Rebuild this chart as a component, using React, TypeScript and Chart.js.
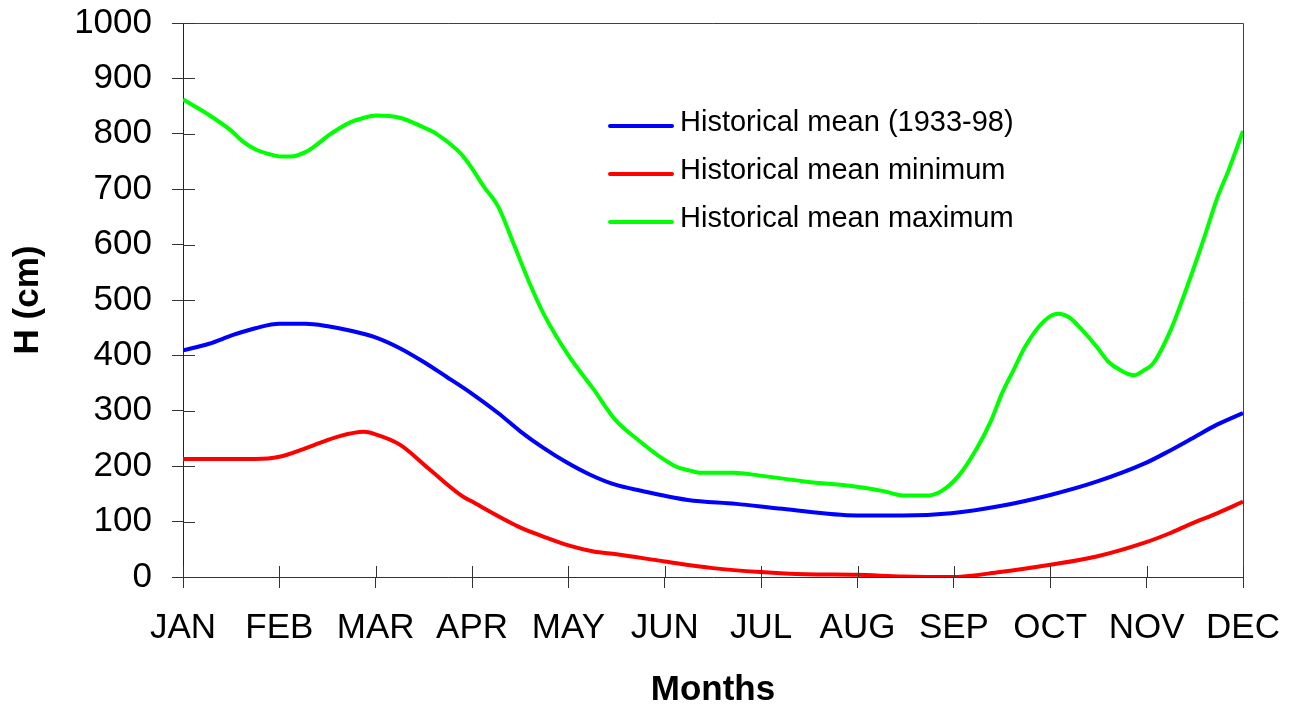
import React, { useEffect, useRef } from "react";
import { Chart, registerables } from "chart.js";

Chart.register(...registerables);

const monthLabels = ["JAN", "FEB", "MAR", "APR", "MAY", "JUN", "JUL", "AUG", "SEP", "OCT", "NOV", "DEC"];
const yTicks = [0, 100, 200, 300, 400, 500, 600, 700, 800, 900, 1000];

const seriesNames = ["Historical mean (1933-98)", "Historical mean minimum", "Historical mean maximum"];
const seriesColors = ["#0000FF", "#FF0000", "#00FF00"];

// [month position (JAN = 0), H in cm]
const meanSeries: [number, number][] = [
  [0, 409], [0.27, 421], [0.52, 437], [0.75, 449], [1.0, 457], [1.27, 457], [1.49, 453],
  [1.73, 445], [1.99, 433], [2.25, 413], [2.49, 389], [2.73, 362], [2.99, 332], [3.27, 296],
  [3.5, 263], [3.74, 233], [3.98, 207], [4.22, 185], [4.46, 168], [4.74, 156], [5.24, 139],
  [5.74, 132], [6.22, 123], [6.99, 111], [7.47, 111], [7.97, 115], [8.48, 128], [9.0, 148],
  [9.48, 172], [9.98, 205], [10.24, 228], [10.46, 249], [10.73, 275], [11.0, 296],
];

const minSeries: [number, number][] = [
  [0, 213], [0.75, 213], [1.0, 217], [1.25, 231], [1.42, 242], [1.6, 253], [1.88, 262],
  [1.99, 258], [2.25, 239], [2.56, 194], [2.89, 147], [2.99, 137], [3.48, 91], [3.74, 73],
  [4.0, 57], [4.26, 46], [4.5, 41], [5.0, 28], [5.5, 16], [5.99, 9], [6.47, 5], [6.99, 4],
  [7.47, 1], [7.97, 0], [8.48, 9], [9.0, 22], [9.48, 37], [9.98, 62], [10.24, 79],
  [10.46, 96], [10.73, 115], [11.0, 136],
];

const maxSeries: [number, number][] = [
  [0, 862], [0.27, 834], [0.49, 807], [0.63, 785], [0.75, 772], [0.9, 763], [1.02, 759],
  [1.12, 759], [1.27, 767], [1.37, 778], [1.51, 797], [1.74, 821], [1.88, 829], [2.0, 833],
  [2.25, 829], [2.49, 812], [2.63, 800], [2.89, 763], [2.99, 740], [3.12, 705], [3.27, 669],
  [3.43, 602], [3.59, 533], [3.74, 476], [4.0, 400], [4.26, 339], [4.48, 285], [4.74, 245],
  [4.95, 217], [5.12, 199], [5.26, 192], [5.38, 188], [5.71, 188], [5.99, 183], [6.47, 172],
  [6.99, 163], [7.27, 155], [7.49, 147], [7.72, 147], [7.87, 155], [8.05, 183], [8.24, 233],
  [8.38, 280], [8.5, 332], [8.62, 374], [8.74, 416], [8.93, 461], [9.08, 475], [9.2, 468],
  [9.33, 446], [9.48, 416], [9.6, 389], [9.73, 373], [9.87, 364], [9.97, 373], [10.07, 386],
  [10.25, 446], [10.42, 524], [10.6, 614], [10.73, 683], [10.85, 734], [11.0, 805],
];

const FONT = "'Liberation Sans', Arial, Helvetica, sans-serif";

const decorPlugin = {
  id: "decor",
  afterDraw(chart: any) {
    const ctx = chart.ctx;
    const { left, right, top, bottom } = chart.chartArea;
    const xs = chart.scales.x;
    const ys = chart.scales.y;
    ctx.save();
    // plot area top/right border
    ctx.strokeStyle = "#404040";
    ctx.lineWidth = 1;
    ctx.beginPath();
    ctx.moveTo(left, top + 0.5);
    ctx.lineTo(right + 0.5, top + 0.5);
    ctx.lineTo(right + 0.5, bottom);
    ctx.stroke();
    // inner halves of tick marks (ticks cross the axes)
    ctx.strokeStyle = "#333";
    ctx.beginPath();
    ys.ticks.forEach((t: any) => {
      const py = Math.round(ys.getPixelForValue(t.value)) + 0.5;
      ctx.moveTo(left, py);
      ctx.lineTo(left + 12, py);
    });
    xs.ticks.forEach((t: any) => {
      const px = Math.round(xs.getPixelForValue(t.value)) + 0.5;
      ctx.moveTo(px, bottom);
      ctx.lineTo(px, bottom - 11);
    });
    ctx.stroke();
    // legend inside the plot area
    const lx = left + 427;
    const ly = top + 103;
    chart.data.datasets.forEach((ds: any, i: number) => {
      const y = ly + i * 48;
      ctx.strokeStyle = ds.borderColor;
      ctx.lineWidth = 4;
      ctx.lineCap = "round";
      ctx.beginPath();
      ctx.moveTo(lx, y);
      ctx.lineTo(lx + 62, y);
      ctx.stroke();
      ctx.fillStyle = "#000";
      ctx.font = `29px ${FONT}`;
      ctx.textBaseline = "middle";
      ctx.textAlign = "left";
      ctx.fillText(ds.label, lx + 70, y - 3);
    });
    ctx.restore();
  },
};

export default function App() {
  const canvasRef = useRef<HTMLCanvasElement | null>(null);

  useEffect(() => {
    document.body.style.margin = "0";
    const canvas = canvasRef.current;
    if (!canvas) return;
    const toPts = (arr: [number, number][]) => arr.map(([x, y]) => ({ x, y }));
    const allSeries = [meanSeries, minSeries, maxSeries];
    const chart = new Chart(canvas, {
      type: "line",
      data: {
        datasets: allSeries.map((s, i) => ({
          label: seriesNames[i],
          data: toPts(s),
          borderColor: seriesColors[i],
          backgroundColor: seriesColors[i],
          borderWidth: 4,
          pointRadius: 0,
          fill: false,
          cubicInterpolationMode: "monotone" as const,
        })),
      },
      options: {
        animation: false,
        responsive: false,
        maintainAspectRatio: false,
        layout: { padding: { top: 23, right: 46, left: 0, bottom: 0 } },
        plugins: {
          legend: { display: false },
          tooltip: { enabled: false },
        },
        scales: {
          x: {
            type: "linear",
            min: 0,
            max: 11,
            afterBuildTicks: (scale: any) => {
              scale.ticks = monthLabels.map((_, i) => ({ value: i }));
            },
            afterFit: (scale: any) => {
              scale.height = 131;
              scale.paddingLeft = 0;
              scale.paddingRight = 0;
            },
            ticks: {
              autoSkip: false,
              maxRotation: 0,
              minRotation: 0,
              padding: 19,
              color: "#000",
              font: { family: FONT, size: 35 },
              callback: (v: any) => monthLabels[Math.round(Number(v))] ?? "",
            },
            grid: { display: true, drawOnChartArea: false, drawTicks: true, tickLength: 11, color: "#333" },
            border: { display: true, color: "#333", width: 1 },
            title: {
              display: true,
              text: "Months",
              color: "#000",
              font: { family: FONT, size: 35, weight: "bold", lineHeight: 1 },
              padding: { top: 0, bottom: 0 },
            },
          },
          y: {
            type: "linear",
            min: 0,
            max: 1000,
            afterBuildTicks: (scale: any) => {
              scale.ticks = yTicks.map((v) => ({ value: v }));
            },
            afterFit: (scale: any) => {
              scale.width = 183;
              scale.paddingTop = 0;
              scale.paddingBottom = 0;
            },
            ticks: {
              padding: 20,
              color: "#000",
              font: { family: FONT, size: 35 },
              callback: (v: any) => String(v),
            },
            grid: { display: true, drawOnChartArea: false, drawTicks: true, tickLength: 11, color: "#333" },
            border: { display: true, color: "#222", width: 1 },
            title: {
              display: true,
              text: "H (cm)",
              color: "#000",
              font: { family: FONT, size: 35, weight: "bold", lineHeight: 1 },
              padding: { top: 11, bottom: 0 },
            },
          },
        },
      },
      plugins: [decorPlugin],
    });
    return () => chart.destroy();
  }, []);

  return (
    <div style={{ width: 1289, height: 708, overflow: "hidden", background: "#fff" }}>
      <canvas ref={canvasRef} width={1289} height={708} style={{ display: "block" }} />
    </div>
  );
}
